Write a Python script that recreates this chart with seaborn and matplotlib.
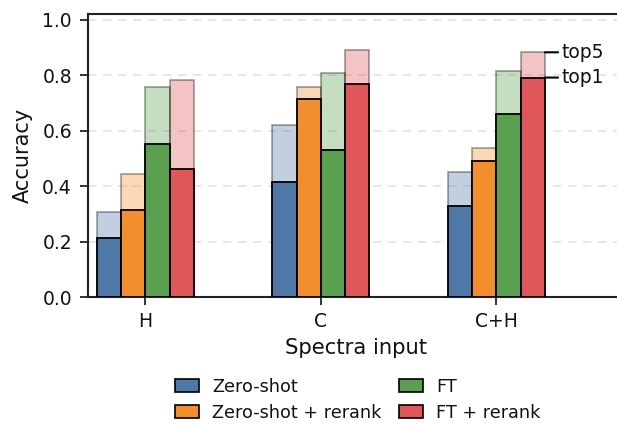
import matplotlib
matplotlib.use("Agg")
import matplotlib.pyplot as plt
from matplotlib.patches import Patch
import seaborn as sns
import pandas as pd

inputs = ["H", "C", "C+H"]
methods = ["Zero-shot", "Zero-shot + rerank", "FT", "FT + rerank"]
colors = ["#4e79a7", "#f28e2b", "#59a14f", "#e15759"]

top1 = {
    "Zero-shot":          [0.214, 0.414, 0.330],
    "Zero-shot + rerank": [0.315, 0.715, 0.491],
    "FT":                 [0.553, 0.530, 0.661],
    "FT + rerank":        [0.461, 0.768, 0.792],
}
top5 = {
    "Zero-shot":          [0.307, 0.621, 0.453],
    "Zero-shot + rerank": [0.446, 0.759, 0.537],
    "FT":                 [0.759, 0.807, 0.816],
    "FT + rerank":        [0.783, 0.891, 0.883],
}

rows = []
for m in methods:
    for i, inp in enumerate(inputs):
        rows.append({"input": inp, "method": m, "top1": top1[m][i], "top5": top5[m][i]})
df = pd.DataFrame(rows)

sns.set_style("white")
plt.rcParams["font.family"] = ["DejaVu Sans"]
plt.rcParams["text.color"] = "#111111"
plt.rcParams["axes.labelcolor"] = "#111111"
plt.rcParams["xtick.color"] = "#111111"
plt.rcParams["ytick.color"] = "#111111"

W, H, DPI = 617, 425, 100
fig = plt.figure(figsize=(W / DPI, H / DPI), dpi=DPI)
ax = fig.add_axes([88.3 / W, 1 - 297.3 / H, 1 - 88.3 / W + 0.01, (297.3 - 14.3) / H])

group_width = 0.553
bar_w = group_width / len(methods)

ax.yaxis.grid(True, linestyle=(0, (5, 4)), color="#e3e3e3", linewidth=1.2, zorder=0)
ax.set_axisbelow(True)

sns.barplot(data=df, x="input", y="top5", hue="method", hue_order=methods,
            order=inputs, palette=colors, width=group_width, saturation=1,
            alpha=0.35, edgecolor="black", linewidth=1.3, legend=False, ax=ax,
            errorbar=None, zorder=2)
sns.barplot(data=df, x="input", y="top1", hue="method", hue_order=methods,
            order=inputs, palette=colors, width=group_width, saturation=1,
            edgecolor="black", linewidth=1.3, legend=False, ax=ax,
            errorbar=None, zorder=3)

ax.set_xlim(-0.325, 2.722)
ax.set_ylim(0, 1.02)
ax.set_yticks([0.0, 0.2, 0.4, 0.6, 0.8, 1.0])
ax.set_yticklabels(["0.0", "0.2", "0.4", "0.6", "0.8", "1.0"])
ax.tick_params(axis="both", which="major", labelsize=13.5, length=5.8, width=1.3,
               pad=6.0, color="#222222", bottom=True, left=True)
ax.tick_params(axis="x", pad=5.0)
ax.set_xlabel("Spectra input", fontsize=15.2, labelpad=5)
ax.set_ylabel("Accuracy", fontsize=15, labelpad=7)

for side in ["left", "bottom", "top"]:
    ax.spines[side].set_visible(True)
    ax.spines[side].set_linewidth(1.5)
    ax.spines[side].set_color("#222222")
ax.spines["right"].set_visible(False)

# top5 / top1 labels beside the last bar
last = len(inputs) - 1
x_right = last + 2 * bar_w
m_last = methods[-1]
for lab, val in [("top5", top5[m_last][last]), ("top1", top1[m_last][last])]:
    ax.annotate(lab, xy=(x_right, val), xytext=(11.8, 0), textcoords="offset points",
                ha="left", va="center", fontsize=13.5,
                arrowprops=dict(arrowstyle="-", lw=1.5, color="black",
                                shrinkA=0, shrinkB=0), zorder=5)

handles = [Patch(facecolor=c, edgecolor="black", linewidth=1.2, label=m)
           for c, m in zip(colors, methods)]
fig.legend(handles=handles, loc="upper center", ncol=2, frameon=False,
           bbox_to_anchor=(358 / W, 1 - 364 / H), fontsize=12.7,
           handlelength=1.35, handleheight=0.75, columnspacing=1.0,
           handletextpad=0.75, labelspacing=0.45, borderpad=0.3)

fig.savefig("out.png", dpi=DPI)
